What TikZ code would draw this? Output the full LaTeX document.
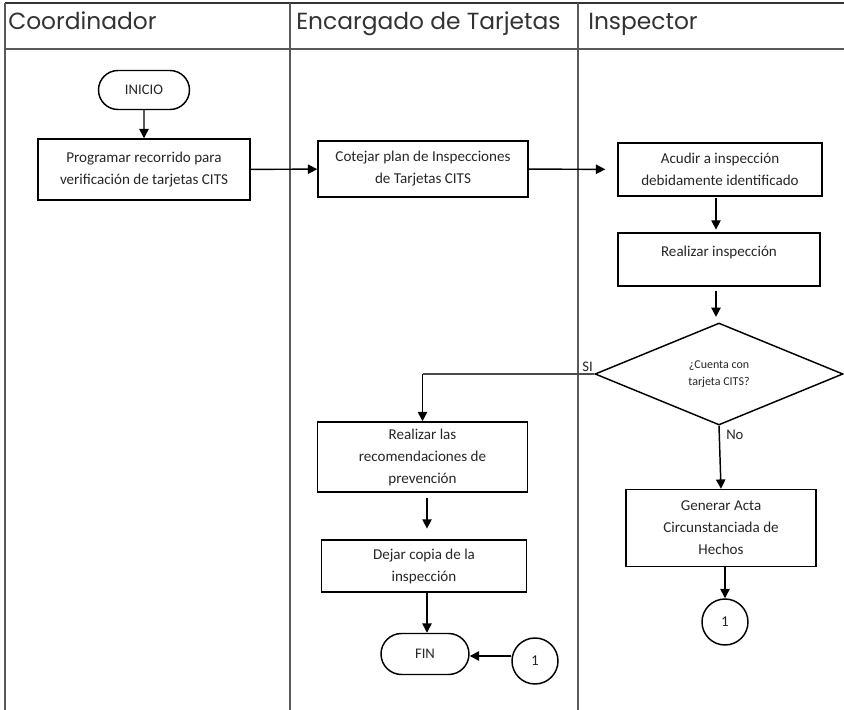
\documentclass[tikz,border=0pt]{standalone}
\usepackage{fontspec}
\setmainfont{Carlito}
\newfontfamily\hdfont{Poppins}
\usetikzlibrary{arrows.meta,shapes.geometric,shapes.misc}
\begin{document}
\begin{tikzpicture}[x=0.75pt,y=-0.75pt,
  lane/.style={draw=black!65, line width=0.9pt},
  hd/.style={anchor=base west, inner sep=0pt, font=\hdfont\fontsize{17.5}{20}\selectfont, text=black!80},
  box/.style={draw, line width=1.1pt, rectangle, inner sep=0pt, align=center,
    font=\fontsize{11.3}{16.5}\selectfont, text=black!85},
  term/.style={draw, line width=1.1pt, rounded rectangle, inner sep=0pt,
    font=\fontsize{11}{13}\selectfont, text=black!85},
  conn/.style={draw, line width=1.1pt, circle, inner sep=0pt,
    minimum size={46*0.75pt}, font=\fontsize{11.3}{13}\selectfont, text=black!85},
  arr/.style={-{Triangle[length=7pt,width=7pt]}, line width=1.1pt},
  lbl/.style={inner sep=0pt, font=\fontsize{11}{13}\selectfont, text=black!85}
]
\useasboundingbox (0,0) rectangle (844,710);
% lanes
\draw[line width=1pt, black!80] (5,3) -- (844,3);
\draw[lane] (5,49) -- (844,49);
\draw[lane] (5,3) -- (5,710);
\draw[lane] (290,3) -- (290,710);
\draw[lane] (578,3) -- (578,710);
\node[hd] (h1) at (8,30) {Coordinador};
\node[hd] (h2) at (296,30) {Encargado de Tarjetas};
\node[hd] (h3) at (588,30) {Inspector};
% nodes
\node[term, minimum width={91*0.75pt}, minimum height={39*0.75pt}] (ini) at (144,90) {INICIO};
\node[box, minimum width={212*0.75pt}, minimum height={61*0.75pt}] (prog) at (144,169.5)
  {Programar recorrido para\\verificación de tarjetas CITS};
\node[box, minimum width={210*0.75pt}, minimum height={56*0.75pt}] (cot) at (423,169)
  {Cotejar plan de Inspecciones\\de Tarjetas CITS};
\node[box, minimum width={204*0.75pt}, minimum height={53*0.75pt}] (acu) at (720,169.5)
  {Acudir a inspección\\debidamente identificado};
\node[box, minimum width={202*0.75pt}, minimum height={53*0.75pt}] (rea) at (719,259.5)
  {Realizar inspección\\[-4pt]\mbox{}};
\node[draw, line width=1.1pt, diamond, inner sep=0pt, align=center,
  minimum width={248*0.75pt}, minimum height={102*0.75pt},
  font=\fontsize{9}{12.5}\selectfont, text=black!85] (dia) at (719,374)
  {¿Cuenta con\\tarjeta CITS?};
\node[box, minimum width={190*0.75pt}, minimum height={77*0.75pt}] (gen) at (721,528)
  {Generar Acta\\Circunstanciada de\\Hechos};
\node[conn] (c1) at (725,622) {1};
\node[box, minimum width={210*0.75pt}, minimum height={70*0.75pt}] (rec) at (422.5,457)
  {Realizar las\\recomendaciones de\\prevención};
\node[box, minimum width={205*0.75pt}, minimum height={52*0.75pt}] (dej) at (424,566)
  {Dejar copia de la\\inspección};
\node[term, minimum width={88*0.75pt}, minimum height={41*0.75pt}] (fin) at (425,654) {FIN};
\node[conn] (c2) at (535,661) {1};
% labels
\node[lbl, anchor=south east] (si) at (593,372) {SI};
\node[lbl, anchor=north west] (no) at (726,430) {No};
% connectors
\draw[arr] (ini) -- (prog);
\draw[arr] (prog) -- (cot);
\draw[arr, shorten >=9pt] (cot) -- (acu);
\draw[arr, shorten <=1pt, shorten >=2pt] (acu.south -| 716,0) -- (rea.north -| 716,0);
\draw[arr, shorten <=3pt, shorten >=4pt] (rea.south -| 716,0) -- (dia.north -| 716,0);
\coordinate (sibend) at (rec.north |- dia.west);
\draw[line width=0.8pt, black!70] (dia.west) -- (sibend);
\draw[arr] (sibend) -- (rec.north);
\draw[arr] (dia.south) -- (gen.north);
\draw[arr] (gen.south -| c1) -- (c1);
\draw[arr, shorten <=4pt, shorten >=8pt] (rec.south -| 427,0) -- (dej.north -| 427,0);
\draw[arr] (dej.south -| 427,0) -- (fin.north -| 427,0);
\draw[arr] (c2.west |- 0,656) -- (fin.east |- 0,656);
\end{tikzpicture}
\end{document}
